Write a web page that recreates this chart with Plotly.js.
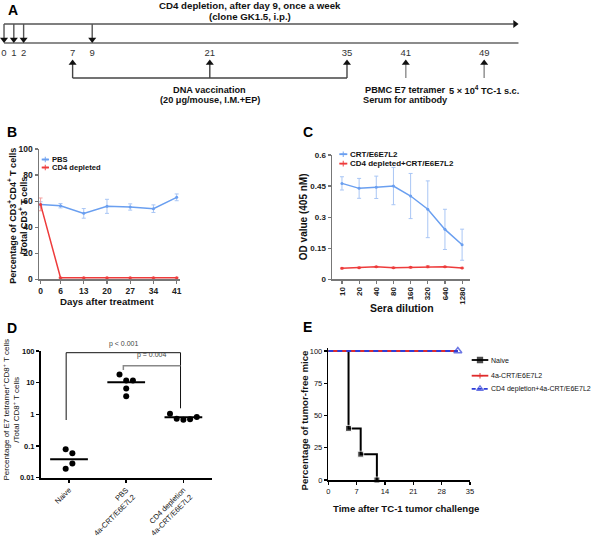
<!DOCTYPE html>
<html><head><meta charset="utf-8">
<script src="https://cdn.plot.ly/plotly-3.0.1.min.js"></script>
<style>html,body{margin:0;padding:0;background:#fff}</style>
</head><body><div id="chart" style="width:600px;height:540px"></div>
<script>
// ---------- Panel A: timeline (days) ----------
const depletionDays = [0, 1, 2, 9];
const vaccinationDays = [7, 21, 35];
const bleedDay = 41;
const challengeDay = 49;
const timelineEndDay = 52.5;

// ---------- Panel B ----------
const bDays = [0, 6, 13, 20, 27, 34, 41];
const bPBS = [57.5, 56.5, 50.6, 56.0, 55.5, 54.2, 62.9];
const bPBSErr = [2.0, 1.7, 3.7, 5.4, 2.4, 2.9, 2.6];
const bCD4 = [57.5, 1.2, 1.2, 1.2, 1.2, 1.2, 1.2];
const bCD4Err = [4.9, 0.3, 0.3, 0.3, 0.3, 0.3, 0.3];

// ---------- Panel C ----------
const cDilution = ['10', '20', '40', '80', '160', '320', '640', '1280'];
const cCRT = [0.463, 0.439, 0.444, 0.450, 0.402, 0.338, 0.241, 0.167];
const cCRTErr = [0.032, 0.048, 0.054, 0.090, 0.109, 0.137, 0.097, 0.075];
const cCD4CRT = [0.053, 0.056, 0.060, 0.056, 0.058, 0.061, 0.060, 0.055];
const cCD4CRTErr = [0.003, 0.003, 0.003, 0.003, 0.003, 0.005, 0.003, 0.003];

// ---------- Panel D ----------
const dGroups = ['Naive', 'PBS<br>4a-CRT/E6E7L2', 'CD4 depletion<br>4a-CRT/E6E7L2'];
const dNaive = [0.079, 0.059, 0.019, 0.028];
const dPBS = [18.2, 11.8, 11.8, 6.5, 3.7];
const dCD4 = [1.05, 0.72, 0.67, 0.70, 0.82];
const dMeans = [0.038, 10.4, 0.81];
const dPvalues = ['p < 0.001', 'p = 0.004'];

// ---------- Panel E ----------
const eNaiveDays = [0, 5, 8, 12];
const eNaiveFree = [100, 40, 20, 0];
const eCRTDays = [0, 32];
const eCRTFree = [100, 100];
const eCD4Days = [0, 32];
const eCD4Free = [100, 100];

// ---------- helpers ----------
const W = 600, H = 540;
const P = x => x / W;
const Q = y => 1 - y / H;
const SANS = "'Liberation Sans', Arial, sans-serif";
const BLUE = '#6a9ff0', BLUE_ERR = '#a9c6f5', RED = '#ee3b3b', RED_ERR = '#f3a0a0';
const E_RED = '#e02b2b', E_BLUE = '#2d3dd8';

const traces = [];
const shapes = [];
const annotations = [];

function txt(text, x, y, size, opts) {
  annotations.push(Object.assign({
    text: text, x: P(x), y: Q(y), xref: 'paper', yref: 'paper', showarrow: false,
    xanchor: 'center', yanchor: 'middle',
    font: {family: SANS, size: size, color: '#111'}
  }, opts || {}));
}

// ---------- Panel A (x: days, y: vertical rows of the schematic) ----------
const yTop = 24, yBase = 43, yLabel = 54, yBracket = 78, yUpHead = 59.5;
const headR = 3.5; // half size of arrow-head marker
function shafts(days, y0, y1) {
  const xs = [], ys = [];
  days.forEach(d => { xs.push(d, d, null); ys.push(y0, y1, null); });
  return {xs, ys};
}
traces.push({x: [depletionDays[0], timelineEndDay - 0.5], y: [yTop, yTop], xaxis: 'x', yaxis: 'y', mode: 'lines',
  line: {color: '#555', width: 1.4}, hoverinfo: 'skip'});
traces.push({x: [timelineEndDay - 0.35], y: [yTop], xaxis: 'x', yaxis: 'y', mode: 'markers',
  marker: {symbol: 'triangle-right', size: 7, color: '#111'}, hoverinfo: 'skip'});
traces.push({x: [depletionDays[0], timelineEndDay], y: [yBase, yBase], xaxis: 'x', yaxis: 'y', mode: 'lines',
  line: {color: '#666', width: 1.4}, hoverinfo: 'skip'});
let s = shafts(depletionDays, yTop, yBase - headR);
traces.push({x: s.xs, y: s.ys, xaxis: 'x', yaxis: 'y', mode: 'lines', line: {color: '#555', width: 1.4}, hoverinfo: 'skip'});
traces.push({x: depletionDays, y: depletionDays.map(() => yBase - headR), xaxis: 'x', yaxis: 'y', mode: 'markers',
  marker: {symbol: 'triangle-down', size: 7, color: '#111'}, hoverinfo: 'skip'});
s = shafts(vaccinationDays, yBracket, yUpHead + headR);
traces.push({x: s.xs, y: s.ys, xaxis: 'x', yaxis: 'y', mode: 'lines', line: {color: '#444', width: 1.4}, hoverinfo: 'skip'});
traces.push({x: [vaccinationDays[0], vaccinationDays[vaccinationDays.length - 1]], y: [yBracket, yBracket], xaxis: 'x', yaxis: 'y',
  mode: 'lines', line: {color: '#444', width: 1.4}, hoverinfo: 'skip'});
traces.push({x: vaccinationDays, y: vaccinationDays.map(() => yUpHead + headR), xaxis: 'x', yaxis: 'y', mode: 'markers',
  marker: {symbol: 'triangle-up', size: 7, color: '#111'}, hoverinfo: 'skip'});
s = shafts([bleedDay, challengeDay], yBracket, yUpHead + headR);
traces.push({x: s.xs, y: s.ys, xaxis: 'x', yaxis: 'y', mode: 'lines', line: {color: '#999', width: 1.6}, hoverinfo: 'skip'});
traces.push({x: [bleedDay, challengeDay], y: [yUpHead + headR, yUpHead + headR], xaxis: 'x', yaxis: 'y', mode: 'markers',
  marker: {symbol: 'triangle-up', size: 7, color: '#111'}, hoverinfo: 'skip'});
const allDays = [...depletionDays, ...vaccinationDays, bleedDay, challengeDay].sort((a, b) => a - b);
traces.push({x: allDays, y: allDays.map(() => yLabel), xaxis: 'x', yaxis: 'y', mode: 'text', text: allDays.map(String),
  textfont: {family: SANS, size: 9.5, color: '#333'}, hoverinfo: 'skip'});
const aText = (t, d, y) => annotations.push({text: t, x: d, y: y, xref: 'x', yref: 'y', showarrow: false,
  font: {family: SANS, size: 9.2, color: '#111', weight: 'bold'}});
aText('DNA vaccination', vaccinationDays[1], 89.5);
aText('(20 μg/mouse, I.M.+EP)', vaccinationDays[1], 100);
aText('PBMC E7 tetramer', bleedDay, 89.5);
aText('Serum for antibody', bleedDay, 100);
aText('5 × 10<sup>4</sup> TC-1 s.c.', challengeDay, 89.5);
txt('<b>CD4 depletion, after day 9, once a week</b>', 250, 6, 9.7);
txt('<b>(clone GK1.5, i.p.)</b>', 250, 16.5, 9.7);

// ---------- Panel B ----------
traces.push({x: bDays, y: bPBS, xaxis: 'x2', yaxis: 'y2', mode: 'lines+markers', name: 'PBS',
  line: {color: BLUE, width: 1.5}, marker: {color: BLUE, size: 3},
  error_y: {type: 'data', array: bPBSErr, visible: true, color: BLUE_ERR, thickness: 1, width: 2}});
traces.push({x: bDays, y: bCD4, xaxis: 'x2', yaxis: 'y2', mode: 'lines+markers', name: 'CD4 depleted',
  line: {color: RED, width: 1.5}, marker: {color: RED, size: 3},
  error_y: {type: 'data', array: bCD4Err, visible: true, color: RED_ERR, thickness: 1, width: 2}});

// ---------- Panel C ----------
traces.push({x: cDilution, y: cCRT, xaxis: 'x3', yaxis: 'y3', mode: 'lines+markers', name: 'CRT/E6E7L2',
  line: {color: BLUE, width: 1.5}, marker: {color: BLUE, size: 3},
  error_y: {type: 'data', array: cCRTErr, visible: true, color: BLUE_ERR, thickness: 1, width: 2}});
traces.push({x: cDilution, y: cCD4CRT, xaxis: 'x3', yaxis: 'y3', mode: 'lines+markers', name: 'CD4 depleted+CRT/E6E7L2',
  line: {color: RED, width: 1.5}, marker: {color: RED, size: 3},
  error_y: {type: 'data', array: cCD4CRTErr, visible: true, color: RED_ERR, thickness: 1, width: 2}});

// ---------- Panel D ----------
const dXDom = [P(41), P(211.7)], dYDom = [Q(477.7), Q(351)];
const dXRange = [-0.49, 2.495], dYRange = [-2, 2];
const pxPerDecade = (dYDom[1] - dYDom[0]) * H / (dYRange[1] - dYRange[0]);
const pxPerCat = (dXDom[1] - dXDom[0]) * W / (dXRange[1] - dXRange[0]);
const dotGapPx = 7, dotStep = 6.7 / pxPerCat;
function swarm(vals, idx) {
  const order = vals.map((v, i) => i).sort((a, b) => vals[b] - vals[a]);
  const clusters = []; let cur = [order[0]];
  for (let k = 1; k < order.length; k++) {
    const dy = (Math.log10(vals[order[k - 1]]) - Math.log10(vals[order[k]])) * pxPerDecade;
    if (dy < dotGapPx) cur.push(order[k]); else { clusters.push(cur); cur = [order[k]]; }
  }
  clusters.push(cur);
  const xs = new Array(vals.length);
  clusters.forEach(c => { c.sort((a, b) => a - b); c.forEach((i, j) => { xs[i] = idx + (j - (c.length - 1) / 2) * dotStep; }); });
  return xs;
}
[dNaive, dPBS, dCD4].forEach((vals, g) => {
  traces.push({x: swarm(vals, g), y: vals, xaxis: 'x4', yaxis: 'y4', mode: 'markers', name: dGroups[g],
    marker: {color: '#000', size: 6}, cliponaxis: false});
  traces.push({x: [g - 0.33, g + 0.33], y: [dMeans[g], dMeans[g]], xaxis: 'x4', yaxis: 'y4', mode: 'lines',
    line: {color: '#000', width: 2}, hoverinfo: 'skip'});
});
const brk = 0.05;
shapes.push({type: 'path', xref: 'x4', yref: 'paper',
  path: `M ${0 - brk},${Q(420)} L ${0 - brk},${Q(352.7)} L ${2 - brk},${Q(352.7)} L ${2 - brk},${Q(408.3)}`,
  line: {color: '#111', width: 1}});
shapes.push({type: 'path', xref: 'x4', yref: 'paper',
  path: `M ${1 - brk},${Q(370)} L ${1 - brk},${Q(365.7)} L ${2 - brk},${Q(365.7)}`,
  line: {color: '#888', width: 1.5}});
annotations.push({text: dPvalues[0], x: 1 - brk, y: Q(343.5), xref: 'x4', yref: 'paper', showarrow: false,
  font: {family: SANS, size: 7, color: '#444'}});
annotations.push({text: dPvalues[1], x: 1.5 - brk, y: Q(360.5), xref: 'x4', yref: 'paper', showarrow: false,
  font: {family: SANS, size: 7, color: '#444'}});

// ---------- Panel E ----------
traces.push({x: eNaiveDays, y: eNaiveFree, xaxis: 'x5', yaxis: 'y5', mode: 'lines+markers', name: 'Naive',
  line: {color: '#000', width: 2, shape: 'hv'},
  marker: {color: '#000', symbol: 'square', size: eNaiveDays.map((d, i) => i === 0 ? 0 : 6)}, cliponaxis: false});
traces.push({x: eCRTDays, y: eCRTFree, xaxis: 'x5', yaxis: 'y5', mode: 'lines', name: '4a-CRT/E6E7L2',
  line: {color: E_RED, width: 2}});
traces.push({x: eCD4Days, y: eCD4Free, xaxis: 'x5', yaxis: 'y5', mode: 'lines+markers', name: 'CD4 depletion+4a-CRT/E6E7L2',
  line: {color: E_BLUE, width: 2, dash: '5px,4px'},
  marker: {color: E_BLUE, symbol: 'triangle-up-open', size: eCD4Days.map((d, i) => i === eCD4Days.length - 1 ? 7 : 0), line: {width: 1.5, color: E_BLUE}},
  cliponaxis: false});

// ---------- manual legends (overlay pixel axis x6/y6) ----------
function legendItem(x0, x1, y, color, dash, symbol, msize, label, tx, fsize, bold) {
  traces.push({x: [x0, (x0 + x1) / 2, x1], y: [y, y, y], xaxis: 'x6', yaxis: 'y6', mode: 'lines+markers',
    line: {color: color, width: 1.8, dash: dash}, marker: {color: color, symbol: symbol, size: [0, msize, 0], line: {color: color, width: 1.3}},
    hoverinfo: 'skip', cliponaxis: false});
  annotations.push({text: label, x: P(tx), y: Q(y), xref: 'paper', yref: 'paper', showarrow: false,
    xanchor: 'left', yanchor: 'middle', font: {family: SANS, size: fsize, color: '#111', weight: bold ? 'bold' : 'normal'}});
}
legendItem(41.7, 49, 159.5, BLUE, 'solid', 'cross-thin', 4, 'PBS', 49.5, 7.6, true);
legendItem(41.7, 49, 167.5, RED, 'solid', 'cross-thin', 4, 'CD4 depleted', 49.5, 7.6, true);
legendItem(339.3, 347.3, 154.2, BLUE, 'solid', 'cross-thin', 4, 'CRT/E6E7L2', 347.8, 8, true);
legendItem(339.3, 347.3, 163.6, RED, 'solid', 'cross-thin', 4, 'CD4 depleted+CRT/E6E7L2', 347.8, 8, true);
legendItem(471.7, 488.3, 360, '#000', 'solid', 'square', 5, 'Naive', 489, 7, false);
legendItem(471.7, 488.3, 375.7, E_RED, 'solid', 'cross-thin', 4, '4a-CRT/E6E7L2', 489, 7, false);
legendItem(471.7, 488.3, 388.8, E_BLUE, '4px,2px', 'triangle-up-open', 6, 'CD4 depletion+4a-CRT/E6E7L2', 489, 7, false);

// ---------- titles & panel letters ----------
['A', 'B', 'C', 'D', 'E'].forEach((L, i) => {
  const pos = [[13, 10], [12.3, 131.7], [308, 131.7], [12.3, 327.5], [307.5, 327]][i];
  txt('<b>' + L + '</b>', pos[0], pos[1], 14, {font: {family: SANS, size: 14, color: '#000'}});
});
txt('<b>Days after treatment</b>', 107.3, 301.7, 9.7);
txt('<b>Percentage of CD3<sup>+</sup>CD4<sup>+</sup> T cells<br>/Total CD3<sup>+</sup> T cells</b>', 16.8, 216, 9, {textangle: -90});
txt('<b>OD value (405 nM)</b>', 303.5, 216.7, 10, {textangle: -90});
txt('<b>Sera dilution</b>', 402, 308, 10.5);
txt('Percentage of E7 tetramer<sup>+</sup>CD8<sup>+</sup> T cells<br>/Total CD8<sup>+</sup> T cells', 10.5, 410, 8, {textangle: -90});
txt('<b>Percentage of tumor-free mice</b>', 303.5, 420, 9.7, {textangle: -90});
txt('<b>Time after TC-1 tumor challenge</b>', 405.7, 508.3, 9.6);

// ---------- axes ----------
const base = {showgrid: false, zeroline: false, showline: true, ticks: 'outside', fixedrange: true};
const bcAxis = Object.assign({}, base, {linecolor: '#777', linewidth: 1.5, tickcolor: '#777', tickwidth: 1.2, ticklen: 3});
const boldTick = s => ({family: SANS, size: s, color: '#222', weight: 'bold'});

const layout = {
  width: W, height: H, margin: {l: 0, r: 0, t: 0, b: 0}, showlegend: false,
  paper_bgcolor: '#fff', plot_bgcolor: 'rgba(0,0,0,0)',
  xaxis: {domain: [0, 1], range: [-0.41, 60.82], visible: false, fixedrange: true, anchor: 'y'},
  yaxis: {domain: [Q(110), 1], range: [110, 0], visible: false, fixedrange: true, anchor: 'x'},

  xaxis2: Object.assign({}, bcAxis, {domain: [P(39), P(180)], range: [-0.48, 42], anchor: 'y2',
    tickvals: bDays, ticktext: bDays.map(String), tickfont: boldTick(8.5)}),
  yaxis2: Object.assign({}, bcAxis, {domain: [Q(279.3), Q(149)], range: [0, 100], anchor: 'x2',
    tick0: 0, dtick: 20, tickfont: boldTick(8.5)}),

  xaxis3: Object.assign({}, bcAxis, {domain: [P(332), P(470)], range: [-0.58, 7.46], anchor: 'y3',
    type: 'category', categoryarray: cDilution, tickangle: -90, tickfont: boldTick(8)}),
  yaxis3: Object.assign({}, bcAxis, {domain: [Q(279.3), Q(155)], range: [0, 0.6], anchor: 'x3',
    tickvals: [0, 0.15, 0.3, 0.45, 0.6], ticktext: ['0', '0.15', '0.3', '0.45', '0.6'], tickfont: boldTick(8)}),

  xaxis4: Object.assign({}, base, {domain: dXDom, range: dXRange, anchor: 'y4', linecolor: '#000', linewidth: 2,
    tickcolor: '#000', tickwidth: 1.5, ticklen: 3, tickvals: [0, 1, 2], ticktext: dGroups, tickangle: -45,
    tickfont: {family: SANS, size: 7.5, color: '#111'}}),
  yaxis4: Object.assign({}, base, {domain: dYDom, range: dYRange, type: 'log', anchor: 'x4', linecolor: '#000', linewidth: 2,
    tickcolor: '#000', tickwidth: 1.5, ticklen: 3, tickvals: [0.01, 0.1, 1, 10, 100], ticktext: ['0.01', '0.1', '1', '10', '100'],
    tickfont: {family: SANS, size: 7.5, color: '#111', weight: 'bold'}}),

  xaxis5: Object.assign({}, base, {domain: [P(328.3), P(470)], range: [0, 35], anchor: 'y5', linecolor: '#000', linewidth: 1.5,
    tickcolor: '#000', tickwidth: 1.2, ticklen: 3, tick0: 0, dtick: 7, tickfont: {family: SANS, size: 7.5, color: '#111'}}),
  yaxis5: Object.assign({}, base, {domain: [Q(480), Q(348.4)], range: [0, 102], anchor: 'x5', linecolor: '#000', linewidth: 1.5,
    tickcolor: '#000', tickwidth: 1.2, ticklen: 3, tickvals: [0, 25, 50, 75, 100], tickfont: {family: SANS, size: 7.5, color: '#111'}}),

  xaxis6: {domain: [0, 1], range: [0, W], visible: false, fixedrange: true, anchor: 'y6'},
  yaxis6: {domain: [0, 1], range: [H, 0], visible: false, fixedrange: true, anchor: 'x6'},

  shapes: shapes,
  annotations: annotations
};

Plotly.newPlot('chart', traces, layout, {staticPlot: true, displayModeBar: false});
</script>
</body></html>
